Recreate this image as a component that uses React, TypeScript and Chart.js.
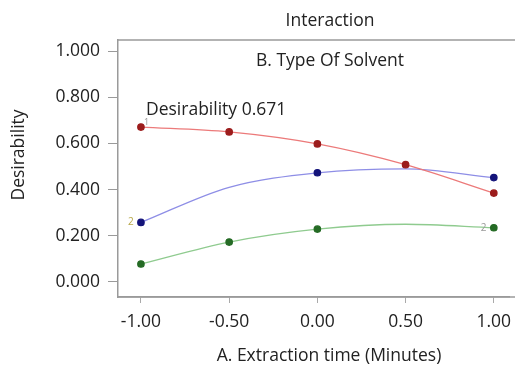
import React, { useEffect, useRef } from "react";
import { Chart, registerables } from "chart.js";

Chart.register(...registerables);

const xValues = [-1, -0.5, 0, 0.5, 1];
const xTicks = [-1, -0.5, 0, 0.5, 1];
const yTicks = [0, 0.2, 0.4, 0.6, 0.8, 1.0];
const redValues = [0.671, 0.65, 0.598, 0.508, 0.385];
const blueValues = [0.258, 0.41, 0.473, 0.49, 0.452];
const greenValues = [0.078, 0.173, 0.229, 0.25, 0.235];
const redMarkers = [true, true, true, true, true];
const blueMarkers = [true, false, true, false, true];
const greenMarkers = [true, true, true, false, true];

const chartTitle = "Interaction";
const innerTitle = "B. Type Of Solvent";
const desirabilityLabel = "Desirability 0.671";
const xTitle = "A. Extraction time (Minutes)";
const yTitle = "Desirability";

const FONT = "'Open Sans', 'Noto Sans', sans-serif";
const FS = 17.5;

export default function App() {
  const ref = useRef<HTMLCanvasElement | null>(null);
  useEffect(() => {
    if (!ref.current) return;
    const mk = (vals: number[], marks: boolean[], line: string, pt: string) => ({
      data: xValues.map((x, i) => ({ x, y: vals[i] })),
      borderColor: line,
      backgroundColor: pt,
      pointBackgroundColor: pt,
      pointBorderColor: pt,
      pointRadius: marks.map((m) => (m ? 3.2 : 0)),
      borderWidth: 1.3,
      tension: 0.4,
      cubicInterpolationMode: "monotone" as const,
      fill: false,
    });
    const decor = {
      id: "decor",
      afterDraw(chart: any) {
        const { ctx, chartArea } = chart;
        ctx.save();
        ctx.strokeStyle = "#9a9a9a";
        ctx.lineWidth = 1.5;
        ctx.beginPath();
        ctx.moveTo(515, chartArea.top);
        ctx.lineTo(chartArea.left, chartArea.top);
        ctx.moveTo(chartArea.left, chartArea.bottom);
        ctx.lineTo(515, chartArea.bottom);
        ctx.stroke();
        ctx.fillStyle = "#222";
        ctx.textAlign = "center";
        ctx.textBaseline = "middle";
        ctx.font = `${FS}px ${FONT}`;
        ctx.fillText(chartTitle, 330, 21);
        ctx.fillText(innerTitle, 330, 61);
        ctx.textAlign = "left";
        ctx.fillText(desirabilityLabel, 146, 110);
        ctx.textAlign = "center";
        ctx.fillText(xTitle, 329, 356);
        ctx.save();
        ctx.translate(19, 155);
        ctx.rotate(-Math.PI / 2);
        ctx.fillText(yTitle, 0, 0);
        ctx.restore();
        ctx.textAlign = "left";
        const xs = chart.scales.x;
        const ys = chart.scales.y;
        ctx.font = `9px ${FONT}`;
        ctx.fillStyle = "#999";
        ctx.fillText("1", xs.getPixelForValue(-1) + 3, ys.getPixelForValue(redValues[0]) - 5);
        ctx.fillStyle = "#b8a84a";
        ctx.font = `10px ${FONT}`;
        ctx.fillText("2", xs.getPixelForValue(-1) - 13, ys.getPixelForValue(blueValues[0]));
        ctx.fillStyle = "#999";
        ctx.fillText("2", xs.getPixelForValue(1) - 13, ys.getPixelForValue(greenValues[4]));
        ctx.restore();
      },
    };
    const chart = new Chart(ref.current, {
      type: "line",
      data: {
        datasets: [
          mk(redValues, redMarkers, "#ec7a7a", "#9c1c1c"),
          mk(blueValues, blueMarkers, "#8e8ee6", "#14147a"),
          mk(greenValues, greenMarkers, "#8fcb8f", "#256b25"),
        ] as any,
      },
      options: {
        animation: false,
        responsive: false,
        maintainAspectRatio: false,
        layout: { padding: { top: 40, right: 0, left: 0, bottom: 0 } },
        plugins: { legend: { display: false }, tooltip: { enabled: false }, title: { display: false } },
        scales: {
          x: {
            type: "linear",
            min: -1.13,
            max: 1.09,
            afterBuildTicks: (s: any) => {
              s.ticks = xTicks.map((v) => ({ value: v }));
            },
            afterFit: (s: any) => {
              s.height = 72;
              s.paddingLeft = 0;
              s.paddingRight = 0;
            },
            ticks: {
              callback: (v: any) => Number(v).toFixed(2),
              font: { family: FONT, size: FS },
              color: "#222",
              padding: 9,
              maxRotation: 0,
              autoSkip: false,
            },
            grid: { drawOnChartArea: false, drawTicks: true, tickLength: 6, color: "#aaa" },
            border: { color: "#9a9a9a", width: 1.5 },
          },
          y: {
            type: "linear",
            min: -0.065,
            max: 1.048,
            afterBuildTicks: (s: any) => {
              s.ticks = yTicks.map((v) => ({ value: v }));
            },
            afterFit: (s: any) => {
              s.width = 118;
              s.paddingTop = 0;
              s.paddingBottom = 0;
            },
            ticks: {
              callback: (v: any) => Number(v).toFixed(3),
              font: { family: FONT, size: FS },
              color: "#222",
              padding: 8,
            },
            grid: { drawOnChartArea: false, drawTicks: true, tickLength: 10, color: "#9a9a9a" },
            border: { color: "#9a9a9a", width: 1.5 },
          },
        },
      },
      plugins: [decor],
    });
    return () => chart.destroy();
  }, []);
  return (
    <div style={{ position: "fixed", left: 0, top: 0, width: 515, height: 369, background: "#fff" }}>
      <canvas ref={ref} width={515} height={369} style={{ width: 515, height: 369, display: "block" }} />
    </div>
  );
}
